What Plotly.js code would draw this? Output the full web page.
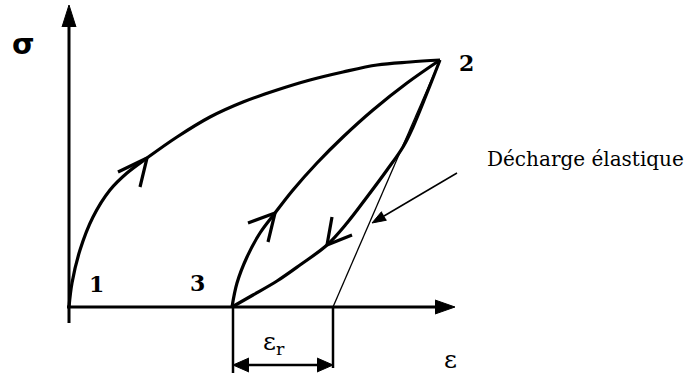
<!DOCTYPE html>
<html><head><meta charset="utf-8">
<script src="https://cdn.plot.ly/plotly-3.0.1.min.js"></script>
<style>html,body{margin:0;padding:0;background:#fff}#chart{width:694px;height:379px}</style>
</head><body><div id="chart"></div>
<script>
// Loading curve 1 -> 2 (strain, stress; schematic units)
const loadEps = [0, 0.03, 0.11, 0.24, 0.41, 0.58, 0.78, 1.08, 1.41, 1.74, 2.08, 2.41, 2.74, 3.08, 3.41, 3.71];
const loadSig = [0, 0.24, 0.57, 0.90, 1.17, 1.34, 1.49, 1.70, 1.90, 2.05, 2.17, 2.27, 2.35, 2.42, 2.45, 2.47];
// Reloading curve 3 -> 2
const reloadEps = [1.63, 1.68, 1.78, 1.91, 2.06, 2.24, 2.48, 2.74, 3.04, 3.38, 3.71];
const reloadSig = [0, 0.24, 0.50, 0.74, 0.94, 1.17, 1.44, 1.70, 1.97, 2.24, 2.47];
// Unloading curve 2 -> 3
const unloadEps = [3.71, 3.58, 3.44, 3.34, 3.18, 2.98, 2.78, 2.58, 2.31, 2.08, 1.84, 1.63];
const unloadSig = [2.47, 2.14, 1.80, 1.60, 1.37, 1.10, 0.84, 0.62, 0.42, 0.26, 0.12, 0];
// Elastic unloading line
const elasticEps = [3.71, 2.64];
const elasticSig = [2.47, 0];
// Direction chevrons on the curves
const chevLoadEps = [0.49, 0.78, 0.71];
const chevLoadSig = [1.35, 1.49, 1.20];
const chevReloadEps = [1.79, 2.06, 1.99];
const chevReloadSig = [0.84, 0.94, 0.65];
const chevUnloadEps = [2.63, 2.58, 2.83];
const chevUnloadSig = [0.90, 0.62, 0.72];
// Axes
const xAxisEps = [-0.02, 3.68];
const xAxisSig = [0, 0];
const yAxisEps = [0, 0];
const yAxisSig = [-0.16, 2.82];
const xHeadEps = [3.66, 3.86, 3.66];
const xHeadSig = [0.07, 0, -0.07];
const yHeadEps = [-0.07, 0, 0.07];
const yHeadSig = [2.80, 3.02, 2.80];
// Pointer to the elastic line
const pointerEps = [3.88, 3.15];
const pointerSig = [1.34, 0.91];
const pointerHeadEps = [3.176, 3.03, 3.126];
const pointerHeadSig = [0.868, 0.84, 0.954];
// Residual strain dimension
const residualEps = [1.64, 2.64];
const dimLeftSig = [0, -0.66];
const dimRightSig = [0, -0.61];
const dimArrowSig = [-0.58, -0.58];
const dimLeftHeadEps = [1.80, 1.64, 1.80];
const dimRightHeadEps = [2.48, 2.64, 2.48];
const dimHeadSig = [-0.51, -0.58, -0.65];
// Labels
const pointLabels = ['1', '3', '2'];
const pointEps = [0.27, 1.28, 3.97];
const pointSig = [0.23, 0.24, 2.44];

const black = '#000';
const line = (x, y, w, shape) => ({x, y, mode: 'lines', type: 'scatter', hoverinfo: 'skip',
  line: {color: black, width: w, shape: shape || 'linear', smoothing: 1}});
const tri = (x, y) => ({x, y, mode: 'lines', type: 'scatter', fill: 'toself', fillcolor: black,
  hoverinfo: 'skip', line: {color: black, width: 1}});

const data = [
  line(xAxisEps, xAxisSig, 3), line(yAxisEps, yAxisSig, 3),
  tri(xHeadEps, xHeadSig), tri(yHeadEps, yHeadSig),
  line(loadEps, loadSig, 3.2, 'spline'),
  line(reloadEps, reloadSig, 3.2, 'spline'),
  line(unloadEps, unloadSig, 3.2, 'spline'),
  line(elasticEps, elasticSig, 1.3),
  line(chevLoadEps, chevLoadSig, 3.2), line(chevReloadEps, chevReloadSig, 3.2), line(chevUnloadEps, chevUnloadSig, 3.2),
  line(pointerEps, pointerSig, 1.5), tri(pointerHeadEps, pointerHeadSig),
  line([residualEps[0], residualEps[0]], dimLeftSig, 2.5),
  line([residualEps[1], residualEps[1]], dimRightSig, 2.5),
  line([dimLeftHeadEps[0], dimRightHeadEps[0]], dimArrowSig, 2.5),
  tri(dimLeftHeadEps, dimHeadSig), tri(dimRightHeadEps, dimHeadSig)
];

const serif = 'DejaVu Serif';
const annotations = [
  {x: -0.46, y: 2.63, text: 'σ', showarrow: false, font: {family: 'DejaVu Sans', size: 29, color: black, weight: 'bold'}},
  {x: 3.81, y: -0.52, text: 'ε', showarrow: false, font: {family: serif, size: 25, color: black}},
  {x: 2.05, y: -0.36, text: 'ε<sub>r</sub>', showarrow: false, font: {family: serif, size: 25, color: black}},
  {x: 4.16, y: 1.48, text: 'Décharge élastique', xanchor: 'left', showarrow: false, font: {family: serif, size: 20, color: black}}
];
pointLabels.forEach((t, i) => annotations.push({x: pointEps[i], y: pointSig[i], text: t, showarrow: false,
  font: {family: serif, size: 22, color: black, weight: 'bold'}}));

const layout = {
  width: 694, height: 379, margin: {l: 0, r: 0, t: 0, b: 0},
  paper_bgcolor: '#fff', plot_bgcolor: '#fff', showlegend: false,
  xaxis: {range: [-0.69, 6.25], visible: false, fixedrange: true},
  yaxis: {range: [-0.72, 3.07], visible: false, fixedrange: true},
  annotations
};
Plotly.newPlot('chart', data, layout, {staticPlot: true, displayModeBar: false});
</script></body></html>
